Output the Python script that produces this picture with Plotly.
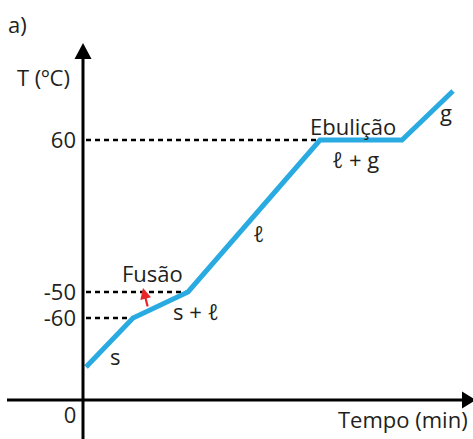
import plotly.graph_objects as go

# Schematic heating curve (time and temperature in schematic units)
time = [3, 50, 105, 237, 319, 370]
level = [33, 82, 108, 260, 260, 309]

# Temperature ticks: schematic level -> label
tick_levels = [82, 108, 260]
tick_labels = ["-60", "-50", "60"]
# Points where the dashed guides end (time of the kink at each tick level)
guide_times = [50, 105, 319]

# Phase labels
phase_text = ["s", "s + ℓ", "ℓ", "ℓ + g", "g", "Fusão", "Ebulição"]

W, H = 473, 439
ML, MB = 83, 39
PW, PH = W - ML, H - MB
FONT = "Open Sans"
FS = 22
TXT = "#231f20"
BLUE = "#29abe2"


def px(x):
    return (x - ML) / PW


def py(y):
    return (PH - y) / PH


fig = go.Figure()

# dashed guide lines
for t, lv in zip(guide_times, tick_levels):
    fig.add_trace(go.Scatter(x=[3, t], y=[lv, lv], mode="lines",
                             line=dict(color="black", width=2.5, dash="5px,4px"),
                             hoverinfo="skip", showlegend=False))

# heating curve
fig.add_trace(go.Scatter(x=time, y=level, mode="lines",
                         line=dict(color=BLUE, width=5),
                         showlegend=False))

shapes = [
    # y axis line
    dict(type="line", xref="paper", yref="paper", x0=px(83), x1=px(83),
         y0=py(439), y1=py(56), line=dict(color="black", width=3)),
    # x axis line
    dict(type="line", xref="paper", yref="paper", x0=px(7), x1=px(466),
         y0=py(400), y1=py(400), line=dict(color="black", width=3)),
    # y arrowhead
    dict(type="path", xref="paper", yref="paper",
         path=f"M {px(83)} {py(43)} L {px(74.5)} {py(59)} L {px(91.5)} {py(59)} Z",
         fillcolor="black", line=dict(width=0)),
    # x arrowhead
    dict(type="path", xref="paper", yref="paper",
         path=f"M {px(476)} {py(400)} L {px(462)} {py(391.5)} L {px(462)} {py(408.5)} Z",
         fillcolor="black", line=dict(width=0)),
]

annotations = []


def label(text, x, y, size=FS, xanchor="center"):
    annotations.append(dict(text=text, x=px(x), y=py(y), xref="paper", yref="paper",
                            showarrow=False, xanchor=xanchor, yanchor="middle",
                            font=dict(family=FONT, size=size, color=TXT)))


label("a)", 17, 24)
label("T (ºC)", 43, 77)
label("Tempo (min)", 470, 419, xanchor="right")
label(phase_text[0], 115, 356)
label(phase_text[1], 196, 311)
label(phase_text[2], 258, 233)
label(phase_text[3], 355, 159)
label(phase_text[4], 446, 112)
label(phase_text[5], 152, 273)
label(phase_text[6], 353, 126)

# red arrow pointing to "Fusão"
annotations.append(dict(x=px(143), y=py(288), ax=5, ay=20,
                        xref="paper", yref="paper", axref="pixel", ayref="pixel",
                        text="", showarrow=True, arrowhead=2, arrowsize=1,
                        arrowwidth=2.2, arrowcolor="#e8262a"))

fig.update_layout(
    width=W, height=H,
    margin=dict(l=ML, r=0, t=0, b=MB, pad=0, autoexpand=False),
    paper_bgcolor="white", plot_bgcolor="white",
    shapes=shapes, annotations=annotations,
    xaxis=dict(range=[0, PW], showgrid=False, zeroline=False, showline=False,
               automargin=False,
               tickvals=[0], ticktext=["0"], ticks="", ticklabelshift=-13,
               ticklabelstandoff=0,
               tickfont=dict(family=FONT, size=FS, color=TXT), fixedrange=True),
    yaxis=dict(range=[0, PH], showgrid=False, zeroline=False, showline=False,
               automargin=False,
               tickvals=tick_levels, ticktext=tick_labels, ticks="",
               ticklabelstandoff=6,
               tickfont=dict(family=FONT, size=FS, color=TXT), fixedrange=True),
)

fig.write_html("out.html", config={"displayModeBar": False},
               post_script="document.body.style.margin='0';document.body.style.overflow='hidden';")
